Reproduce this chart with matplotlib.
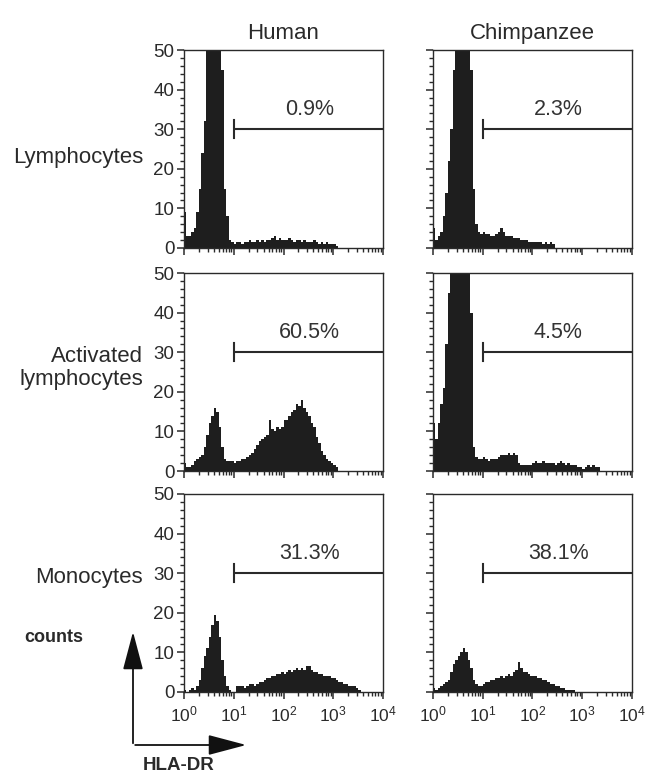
import numpy as np
import matplotlib
matplotlib.use("Agg")
import matplotlib.pyplot as plt
from matplotlib.patches import FancyArrowPatch
from matplotlib.ticker import LogLocator, MultipleLocator, LogFormatterMathtext, NullFormatter

plt.rcParams["font.family"] = ["Liberation Sans", "DejaVu Sans"]
plt.rcParams["mathtext.fontset"] = "custom"
plt.rcParams["mathtext.rm"] = "Liberation Sans"
plt.rcParams["mathtext.it"] = "Liberation Sans:italic"
plt.rcParams["mathtext.bf"] = "Liberation Sans:bold"

# ── data (counts per 1/20-decade channel) ──
SPECIES = ["Human", "Chimpanzee"]
CELL_TYPES = ["Lymphocytes", "Activated\nlymphocytes", "Monocytes"]
GATE_PCT = [["0.9%", "2.3%"],
            ["60.5%", "4.5%"],
            ["31.3%", "38.1%"]]
GATE_FROM, GATE_TO, GATE_LEVEL = 1e1, 1e4, 30

human_lymph = [9, 3, 3, 4, 5, 9, 15, 24, 32, 60,
               60, 60, 60, 60, 60, 45, 15, 8, 2, 1.5,
               1, 1.5, 1.5, 1, 1.5, 1.5, 2, 1.5, 1.5, 2,
               1.5, 2, 1.5, 2, 2, 2.5, 3, 2, 2.5, 2,
               2, 2, 2.5, 2, 1.5, 2, 2, 1.5, 2, 1.5,
               1.5, 1.5, 2, 1.5, 1, 1.5, 1, 1.5, 1, 1,
               1, 0.5, 0, 0, 0, 0, 0, 0, 0, 0,
               0, 0, 0, 0, 0, 0, 0, 0, 0, 0]
chimp_lymph = [5, 2, 3, 4, 8, 14, 22, 30, 45, 60,
               60, 60, 60, 60, 60, 45, 15, 6, 4, 3.5,
               4, 3.5, 3.5, 3, 3, 3.5, 4, 5, 4, 3,
               3, 3, 2.5, 2.5, 2.5, 2, 2, 2, 1.5, 1.5,
               1.5, 1.5, 1.5, 1.5, 1, 1.5, 1, 1.5, 1, 0,
               0, 0, 0, 0, 0, 0, 0, 0, 0, 0,
               0, 0, 0, 0, 0, 0, 0, 0, 0, 0,
               0, 0, 0, 0, 0, 0, 0, 0, 0, 0]
human_act = [2, 1, 1, 1.5, 2.5, 3, 3.5, 4, 6, 9,
             12, 14, 16, 15, 11, 6, 3, 2.5, 2.5, 2.5,
             2, 2.5, 2.5, 3, 3, 3.5, 4, 4.5, 5.5, 6.5,
             7.5, 8, 8.5, 9, 13, 10.5, 10, 11, 10.5, 11,
             13, 13, 14, 15, 15.5, 17, 16.5, 18, 16, 15,
             14, 12, 11, 8.5, 7, 5, 4, 3, 2.5, 2,
             1.5, 1, 0, 0, 0, 0, 0, 0, 0, 0,
             0, 0, 0, 0, 0, 0, 0, 0, 0, 0]
chimp_act = [12, 8, 12, 17, 21, 32, 45, 60, 60, 60,
             60, 60, 60, 60, 60, 40, 6, 3.5, 3, 3,
             3.5, 3, 2.5, 3, 3, 3, 3.5, 4, 4, 4,
             4.5, 4, 4.5, 4, 2, 1.5, 1.5, 1.5, 1.5, 1.5,
             2, 2.5, 2, 2, 2.5, 2, 2, 2, 2, 1.5,
             2, 2.5, 2, 1.5, 2, 1.5, 1.5, 1.5, 1, 1,
             0.5, 1, 1.5, 1, 1.5, 1, 1, 0, 0, 0,
             0, 0, 0, 0, 0, 0, 0, 0, 0, 0]
human_mono = [0.5, 0, 0.5, 1, 0.5, 1.5, 3, 6, 9, 11,
              14, 17, 19.5, 18, 14, 8, 4, 1.5, 0.5, 0,
              0, 1.5, 1.5, 1.5, 1, 1.5, 2, 2, 1.5, 2,
              2.5, 2.5, 3, 3.5, 3.5, 4, 4, 4.5, 4.5, 5,
              4.5, 5, 5.5, 5, 5.5, 6, 5.5, 6, 5.5, 6.5,
              6.5, 5.5, 5, 5, 4.5, 4.5, 4, 4, 4, 3.5,
              3.5, 3, 2.5, 2.5, 2, 2, 1.5, 1.5, 1.5, 1,
              0.5, 0, 0, 0, 0, 0, 0, 0, 0, 0]
chimp_mono = [1, 0.5, 1, 1.5, 2, 2.5, 3, 5, 7, 8,
              9, 10, 11, 10, 8, 6, 3, 2, 1.5, 1.5,
              2, 2.5, 2.5, 3, 3, 3.5, 3.5, 4, 3.5, 4,
              4.5, 4, 5, 5.5, 7.5, 6, 5, 5, 4.5, 4,
              4, 4, 3.5, 3.5, 3, 3, 2.5, 2, 2, 1.5,
              1.5, 1, 1, 0.5, 0.5, 0.5, 0.5, 0, 0, 0,
              0, 0, 0, 0, 0, 0, 0, 0, 0, 0,
              0, 0, 0, 0, 0, 0, 0, 0, 0, 0]

HISTS = [[human_lymph, chimp_lymph],
         [human_act, chimp_act],
         [human_mono, chimp_mono]]

W, H = 645, 779
FILL = "#1e1e1e"
INK = "#2a2a2a"


def fx(px):
    return px / W


def fy(py):
    return 1 - py / H


fig = plt.figure(figsize=(W / 100, H / 100), dpi=100)

col_left = [184, 433]
row_top = [50, 273, 494]
panel_w, panel_h = 199, 198

edges = np.logspace(0, 4, 81)

for r in range(3):
    for c in range(2):
        ax = fig.add_axes([fx(col_left[c]), fy(row_top[r] + panel_h),
                           fx(panel_w), panel_h / H])
        ax.stairs(HISTS[r][c], edges, fill=True, color=FILL, lw=0)
        ax.set_xscale("log")
        ax.set_xlim(1, 1e4)
        ax.set_ylim(0, 50)

        ax.xaxis.set_major_locator(LogLocator(base=10, numticks=10))
        ax.xaxis.set_minor_locator(LogLocator(base=10, subs=np.arange(2, 10), numticks=10))
        ax.xaxis.set_minor_formatter(NullFormatter())
        ax.yaxis.set_major_locator(MultipleLocator(10))
        ax.yaxis.set_minor_locator(MultipleLocator(2))

        ax.tick_params(which="major", direction="out", length=5, width=1.1,
                       color=INK, labelsize=13.5, labelcolor=INK, pad=2)
        ax.tick_params(which="minor", direction="out", length=3, width=1,
                       color=INK)
        ax.tick_params(axis="x", which="major", pad=4, labelsize=12.5)
        if r < 2:
            ax.set_xticklabels([])
        else:
            ax.xaxis.set_major_formatter(LogFormatterMathtext())
        if c == 1:
            ax.set_yticklabels([])
        for sp in ax.spines.values():
            sp.set_color(INK)
            sp.set_linewidth(1)

        # gate bar with cap at left end
        ax.plot([GATE_FROM, GATE_TO], [GATE_LEVEL, GATE_LEVEL], color=INK, lw=1.5,
                solid_capstyle="butt", clip_on=False)
        ax.plot([GATE_FROM, GATE_FROM], [GATE_LEVEL - 2.3, GATE_LEVEL + 2.3],
                color=INK, lw=1.5)
        ax.text(10 ** 2.52, 35, GATE_PCT[r][c], ha="center", va="center",
                fontsize=15.5, color="#333333")

        if r == 0:
            ax.set_title(SPECIES[c], fontsize=16, color=INK, pad=8)
        if c == 0:
            label_y = [157, 368, 578][r]
            fig.text(fx(143), fy(label_y), CELL_TYPES[r], ha="right", va="center",
                     fontsize=16, color=INK, linespacing=1.1)

# counts / HLA-DR axis key
fig.text(fx(54), fy(638), "counts", ha="center", va="center",
         fontsize=13, fontweight="bold", color=INK)
fig.text(fx(179), fy(765), "HLA-DR", ha="center", va="center",
         fontsize=13.5, fontweight="bold", color=INK)
fig.add_artist(FancyArrowPatch((fx(133), fy(746)), (fx(133), fy(629)),
                               transform=fig.transFigure,
                               arrowstyle="-|>,head_length=1.7,head_width=0.45",
                               mutation_scale=14, color="#111111", lw=1.3))
fig.add_artist(FancyArrowPatch((fx(132.4), fy(745)), (fx(249), fy(745)),
                               transform=fig.transFigure,
                               arrowstyle="-|>,head_length=1.7,head_width=0.45",
                               mutation_scale=14, color="#111111", lw=1.3))

fig.savefig("out.png", dpi=100, facecolor="white")
